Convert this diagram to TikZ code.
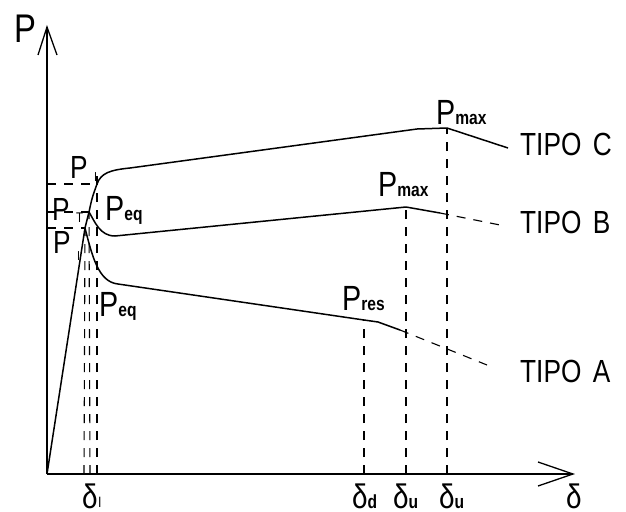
\documentclass[tikz,border=0pt]{standalone}
\usepackage{fontspec}
\setmainfont{Liberation Sans}
\usepackage{graphicx}
\newcommand{\nr}[1]{\scalebox{0.82}[1]{#1}}
\newcommand{\bigP}{\nr{\fontsize{35}{35}\selectfont P}}
\newcommand{\sbf}[1]{\nr{\fontsize{19}{19}\selectfont\bfseries #1}}
\newcommand{\dl}{\nr{\fontsize{34}{34}\selectfont δ}}
\begin{document}
\begin{tikzpicture}[x=1pt,y=-1pt,
  curve/.style={line width=1.5pt, line join=round},
  axisline/.style={line width=1.3pt},
  dsh/.style={line width=1.1pt, dash pattern=on 9pt off 8pt},
  lbl/.style={inner sep=0pt, anchor=base west},
  ]
\useasboundingbox (0,0) rectangle (626,511);
\fill[white] (0,0) rectangle (626,511);
% axes
\coordinate (O) at (47,474);
\coordinate (Ytip) at (47,27);
\coordinate (Xtip) at (573,474);
\draw[axisline] (O) -- (Ytip);
\draw[axisline] (O) -- (Xtip);
\draw[axisline] (38,55) -- (Ytip) -- (57,55);
\draw[axisline] (538,462) -- (Xtip) -- (538,486);
% key points
\coordinate (pkA) at (85,228);
\coordinate (pkB) at (89,212);
\coordinate (pkC) at (97,184);
\coordinate (maxC) at (447,128);
\coordinate (maxB) at (406,207);
\coordinate (resA) at (364,320);
% curves
\draw[curve] (O) -- (pkA) .. controls (86.5,220) .. (pkB) .. controls (92,198) .. (pkC)
  .. controls (101,173) and (110,170) .. (130,168) -- (417,129) -- (maxC) -- (508,148);
\draw[curve] (pkB) .. controls (95,222) and (100,236) .. (115,236) -- (maxB) -- (440,213);
\draw[dsh] (440,213) -- (505,226);
\draw[curve] (pkA) .. controls (92,255) and (98,282) .. (118,284) -- (resA) -- (378,322) -- (400,330);
\draw[dsh] (400,330) -- (487,365);
% dashed guides
\draw[dsh] (84,474) -- (pkA);
\draw[dsh] (90,474) -- (pkB);
\draw[dsh] (97,474) -- (97,172);
\draw[dsh] (364,474) -- (resA);
\draw[dsh] (406,474) -- (maxB);
\draw[dsh] (447,474) -- (maxC);
\draw[dsh] (47,184) -- (97,184);
\draw[dsh] (47,212) -- (95,212);
\draw[dsh] (47,228) -- (85,228);
% labels
\node[lbl] (lP) at (14,43) {\nr{\fontsize{40}{40}\selectfont P}};
\node[lbl] (lPmaxC) at (436,124) {\bigP\sbf{max}};
\node[lbl] (lPmaxB) at (378,196) {\bigP\sbf{max}};
\node[lbl] (lPres) at (342,310) {\bigP\sbf{res}};
\node[lbl] (lPeq1) at (105,220) {\bigP\sbf{eq}};
\node[lbl] (lPeq2) at (99,316) {\bigP\sbf{eq}};
\node[lbl] (lPI1) at (70,178) {\nr{\fontsize{32}{32}\selectfont P}};
\node[lbl] (sPI1) at (94,181) {\nr{\fontsize{13}{13}\selectfont I}};
\node[lbl] (lPT) at (52,220) {\nr{\fontsize{32}{32}\selectfont P}};
\node[lbl] (sPT) at (76,222) {\nr{\fontsize{14}{14}\selectfont T}};
\node[lbl] (lPI2) at (53,253) {\nr{\fontsize{32}{32}\selectfont P}};
\node[lbl] (sPI2) at (77,260) {\nr{\fontsize{13}{13}\selectfont I}};
\node[lbl] (ldI) at (82,508) {\dl};
\node[lbl] (sdI) at (98,507) {\nr{\fontsize{15}{15}\selectfont I}};
\node[lbl] (ldd) at (352,508) {\dl\sbf{d}};
\node[lbl] (ldu1) at (393,508) {\dl\sbf{u}};
\node[lbl] (ldu2) at (439,508) {\dl\sbf{u}};
\node[lbl] (ld) at (566,508) {\dl};
\node[lbl] (tC) at (520,155) {\nr{\fontsize{32}{32}\selectfont TIPO\hspace{14pt}C}};
\node[lbl] (tB) at (520,233) {\nr{\fontsize{32}{32}\selectfont TIPO\hspace{14pt}B}};
\node[lbl] (tA) at (520,382) {\nr{\fontsize{32}{32}\selectfont TIPO\hspace{14pt}A}};
\end{tikzpicture}
\end{document}
